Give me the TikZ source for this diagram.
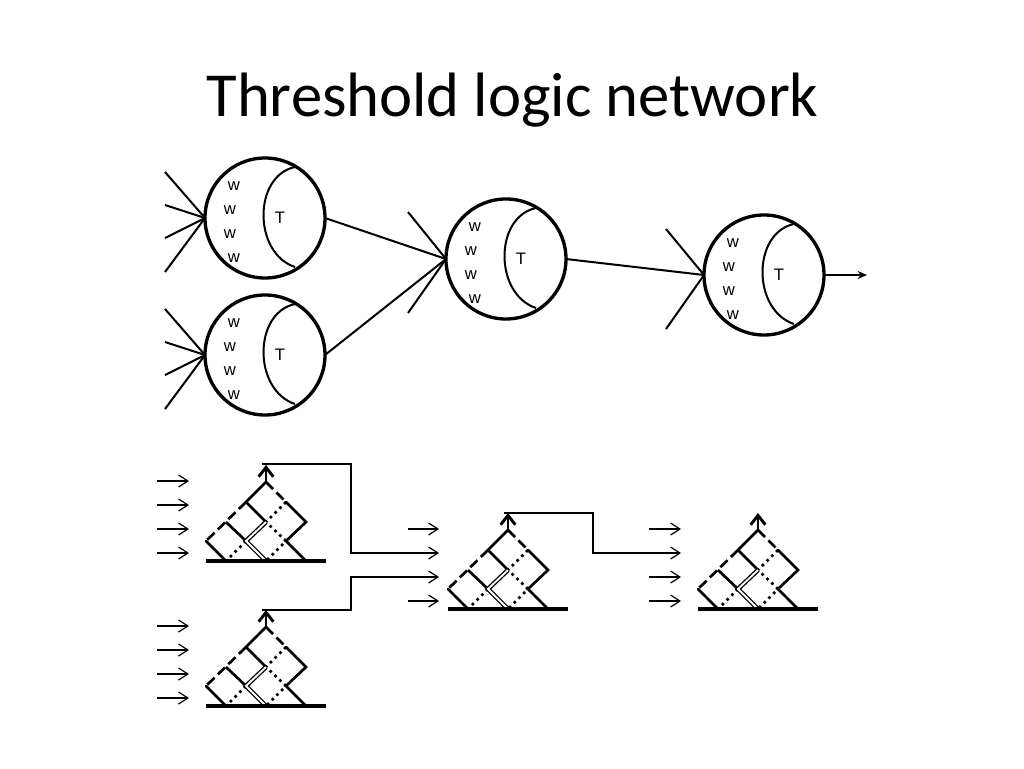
\documentclass[tikz,border=0pt]{standalone}
\usepackage{fontspec}
\setmainfont{Liberation Sans}
\newfontfamily\titlefont{Carlito}
\usetikzlibrary{arrows.meta}
\tikzset{
  x=0.75pt,y=-0.75pt,
  neuron/.style={circle,draw,line width=2.5pt,minimum size=90pt,inner sep=0pt,outer sep=0pt},
  inlabel/.style={font=\fontsize{12.5pt}{14pt}\selectfont,inner sep=0pt},
  wire/.style={line width=1.5pt},
  innerarc/.style={line width=1.5pt},
  smallarrow/.style={line width=0.9pt,-{Straight Barb[length=7pt,width=9pt,line width=0.9pt]}},
  conn/.style={line width=0.8pt,-{Straight Barb[length=7pt,width=9pt,line width=0.9pt]}},
  gateline/.style={line width=2pt},
  gatebase/.style={line width=2.3pt},
  gatedash/.style={line width=2pt,dash pattern=on 7.5pt off 3.5pt},
  gatedot/.style={line width=2pt,dash pattern=on 2pt off 3pt},
  gatedouble/.style={double,double distance=1.4pt,line width=1pt},
  bigarrow/.style={line width=2.2pt,-{Straight Barb[length=7pt,width=11pt,line width=2.2pt]}},
  outarrow/.style={line width=1.5pt,-{Stealth[length=7pt,width=6pt]}}
}
% #1 name, #2 x, #3 y (pixel centre)
\newcommand{\neuronat}[3]{%
  \node[neuron] (#1) at (#2,#3) {};
  \draw[innerarc] (#2+30,#3-51) .. controls (#2-12,#3-42) and (#2-12,#3+35) .. (#2+30,#3+49);
  \node[inlabel] (#1w1) at (#2-31,#3-32) {w};
  \node[inlabel] (#1w2) at (#2-35,#3-8) {w};
  \node[inlabel] (#1w3) at (#2-35,#3+16) {w};
  \node[inlabel] (#1w4) at (#2-31,#3+40) {w};
  \node[inlabel] (#1t) at (#2+15,#3) {T};
}
% #1 name, #2 apex x, #3 apex y
\newcommand{\gateat}[3]{%
  \begin{scope}[shift={(#2,#3)}]
    \coordinate (#1a00) at (0,0);
    \coordinate (#1a10) at (-20,20);
    \coordinate (#1a20) at (-40,40);
    \coordinate (#1a30) at (-60,59);
    \coordinate (#1a40) at (-40,79);
    \coordinate (#1a01) at (20,20);
    \coordinate (#1a02) at (40,40);
    \coordinate (#1a11) at (0,40);
    \coordinate (#1a12) at (20,59);
    \coordinate (#1a21) at (-20,59);
    \coordinate (#1a22) at (0,79);
    \coordinate (#1a13) at (40,79);
    \coordinate (#1bl) at (-60,79);
    \coordinate (#1br) at (60,79);
    \coordinate (#1tip) at (0,-17);
  \end{scope}
  \draw[gateline,line cap=round] (#1a00)--(#1a10);
  \draw[gatedash] (#1a10)--(#1a30);
  \draw[gateline,line cap=round] (#1a30)--(#1a40);
  \draw[gatedash] (#1a00)--(#1a01);
  \draw[gateline,line cap=round] (#1a01)--(#1a02)--(#1a12)--(#1a13);
  \draw[gatedot] (#1a01)--(#1a11)--(#1a12)--(#1a22);
  \draw[gateline] (#1a10)--(#1a11);
  \draw[gateline] (#1a20)--(#1a21);
  \draw[gatedot] (#1a21)--(#1a40);
  \draw[gatedouble] (#1a11)--(#1a21)--(#1a22);
  \draw[gatebase] (#1bl)--(#1br);
  \draw[bigarrow] (#1a00)--(#1tip);
}
\begin{document}
\begin{tikzpicture}
\useasboundingbox (0,0) rectangle (1024,768);
\fill[white] (0,0) rectangle (1024,768);
\node[font=\fontsize{47pt}{50pt}\selectfont\titlefont,inner sep=0pt] (title) at (512.5,100) {Threshold logic network};

% Upper network
\neuronat{na}{265}{218}
\neuronat{nb}{265}{355}
\neuronat{nc}{506}{259}
\neuronat{nd}{764}{275}

\foreach \nm/\cx/\y in {ia1/165/172,ia2/165/205,ia3/165/238,ia4/165/272}{
  \coordinate (\nm) at (\cx,\y);
  \draw[wire] (\nm)--(na.west);
}
\foreach \nm/\cx/\y in {ib1/165/309,ib2/165/342,ib3/165/375,ib4/165/409}{
  \coordinate (\nm) at (\cx,\y);
  \draw[wire] (\nm)--(nb.west);
}
\foreach \nm/\cx/\y in {ic1/408/212,ic2/408/313}{
  \coordinate (\nm) at (\cx,\y);
  \draw[wire] (\nm)--(nc.west);
}
\foreach \nm/\cx/\y in {id1/666/229,id2/666/329}{
  \coordinate (\nm) at (\cx,\y);
  \draw[wire] (\nm)--(nd.west);
}
\draw[wire] (na.east)--(nc.west);
\draw[wire] (nb.east)--(nc.west);
\draw[wire] (nc.east)--(nd.west);
\coordinate (outp) at (867,275);
\draw[outarrow] (nd.east)--(outp);

% Lower network
\gateat{ga}{266}{482}
\gateat{gb}{266}{627}
\gateat{gc}{508}{530}
\gateat{gd}{758}{530}

\foreach \nm/\y in {p1/481,p2/505,p3/529,p4/553,q1/626,q2/650,q3/674,q4/698}{
  \coordinate (\nm s) at (157,\y);
  \coordinate (\nm e) at (189,\y);
  \draw[smallarrow] (\nm s)--(\nm e);
}
\foreach \nm/\y in {r1/529,r2/553,r3/577,r4/601}{
  \coordinate (\nm e) at (439,\y);
  \coordinate (\nm s) at (408,\y);
}
\foreach \nm/\y in {s1/529,s2/553,s3/577,s4/601}{
  \coordinate (\nm e) at (681,\y);
  \coordinate (\nm s) at (649,\y);
}
\draw[smallarrow] (r1s)--(r1e);
\draw[smallarrow] (r4s)--(r4e);
\draw[smallarrow] (s1s)--(s1e);
\draw[smallarrow] (s3s)--(s3e);
\draw[smallarrow] (s4s)--(s4e);

\coordinate (ga0) at (262,464);
\coordinate (gb0) at (262,610);
\coordinate (gc0) at (504,513);
\draw[conn] (ga0)-|(351,553)--(r2e);
\draw[conn] (gb0)-|(351,577)--(r3e);
\draw[conn] (gc0)-|(593,553)--(s2e);
\end{tikzpicture}
\end{document}
